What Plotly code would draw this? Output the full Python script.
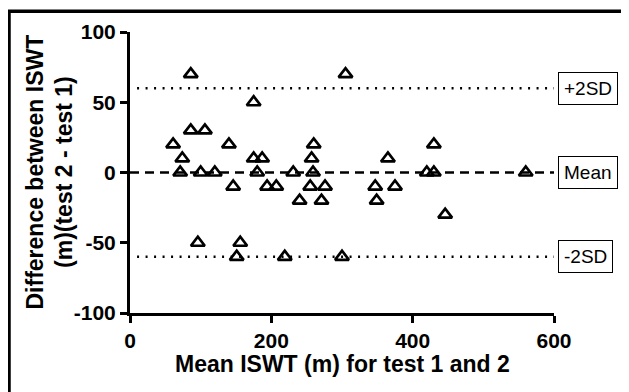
import plotly.graph_objects as go

# Bland-Altman data: mean of the two tests (x) and difference (y)
mean_iswt = [61, 86, 86, 106, 74, 71, 100, 120, 140, 146, 175, 175, 187, 180, 194, 207,
             231, 240, 260, 257, 259, 255, 276, 271, 305, 347, 349, 365, 375, 420, 430,
             430, 446, 560, 96, 156, 151, 219, 300]
diff_iswt = [20, 70, 30, 30, 10, 0, 0, 0, 20, -10, 50, 10, 10, 0, -10, -10,
             0, -20, 20, 10, 0, -10, -10, -20, 70, -10, -20, 10, -10, 0, 0,
             20, -30, 0, -50, -50, -60, -60, -60]

mean_diff = 0
upper_sd = 60
lower_sd = -60
line_labels = ["+2SD", "Mean", "-2SD"]
x_ticks = [0, 200, 400, 600]
y_ticks = [-100, -50, 0, 50, 100]

OFF = 8  # page body margin in the browser
W, H = 629 - OFF, 392 - OFF
L, R, T, B = 130 - OFF, 75, 29 - OFF, 79
pw, ph = W - L - R, H - T - B

def px2paper_x(px):  # px = screen coordinate
    return (px - OFF - L) / pw

def px2paper_y(py):
    return (H - B - (py - OFF)) / ph

fig = go.Figure()

# reference lines
fig.add_trace(go.Scatter(x=[10, 600], y=[upper_sd, upper_sd], mode="lines",
                         line=dict(color="black", width=2.5, dash="2px,6.5px"),
                         hoverinfo="skip", showlegend=False))
fig.add_trace(go.Scatter(x=[10, 600], y=[lower_sd, lower_sd], mode="lines",
                         line=dict(color="black", width=2.5, dash="2px,6.5px"),
                         hoverinfo="skip", showlegend=False))
fig.add_trace(go.Scatter(x=[0, 600], y=[mean_diff, mean_diff], mode="lines",
                         line=dict(color="black", width=2.5, dash="9px,6px"),
                         hoverinfo="skip", showlegend=False))

fig.add_trace(go.Scatter(x=mean_iswt, y=diff_iswt, mode="markers",
                         marker=dict(symbol="triangle-up-open", size=12, color="black",
                                     line=dict(color="black", width=2.7)),
                         showlegend=False))

font_fam = "Liberation Sans, Arial, sans-serif"

for lab, yv in zip(line_labels, [upper_sd, mean_diff, lower_sd]):
    fig.add_annotation(x=px2paper_x(558), xref="paper", xanchor="left",
                       y=yv, yref="y", yanchor="middle",
                       text=lab, showarrow=False,
                       font=dict(family=font_fam, size=19, color="black"),
                       bordercolor="black", borderwidth=1, borderpad=5, bgcolor="white")

# axis titles
fig.add_annotation(x=px2paper_x(49), xref="paper", xanchor="center",
                   y=0.5, yref="paper", yanchor="middle", textangle=-90,
                   text="<b>Difference between ISWT<br>(m)(test 2 - test 1)</b>",
                   showarrow=False, font=dict(family=font_fam, size=23, color="black"))
fig.add_annotation(x=0.5, xref="paper", xanchor="center",
                   y=px2paper_y(365), yref="paper", yanchor="middle",
                   text="<b>Mean ISWT (m) for test 1 and 2</b>",
                   showarrow=False, font=dict(family=font_fam, size=23, color="black"))

# outer frame (left and top edges)
fig.add_shape(type="line", xref="paper", yref="paper",
              x0=px2paper_x(9), x1=px2paper_x(9), y0=px2paper_y(7), y1=px2paper_y(400),
              line=dict(color="black", width=3.5))
fig.add_shape(type="line", xref="paper", yref="paper",
              x0=px2paper_x(7), x1=px2paper_x(640), y0=px2paper_y(8), y1=px2paper_y(8),
              line=dict(color="black", width=3.5))

fig.update_xaxes(range=[0, 600], tickvals=x_ticks, ticktext=[f"<b>{v}</b>" for v in x_ticks],
                 showgrid=False, zeroline=False, showline=True, linecolor="black", linewidth=3,
                 ticks="outside", ticklen=7, tickwidth=2.5, tickcolor="black",
                 tickfont=dict(family=font_fam, size=21, color="black"))
fig.update_yaxes(range=[-100, 100], tickvals=y_ticks, ticktext=[f"<b>{v}</b>" for v in y_ticks],
                 showgrid=False, zeroline=False, showline=True, linecolor="black", linewidth=3,
                 ticks="outside", ticklen=7, tickwidth=2.5, tickcolor="black",
                 tickfont=dict(family=font_fam, size=21, color="black"))

fig.update_layout(width=W, height=H, margin=dict(l=L, r=R, t=T, b=B, pad=0),
                  plot_bgcolor="white", paper_bgcolor="white")

fig.write_html("out.html")
